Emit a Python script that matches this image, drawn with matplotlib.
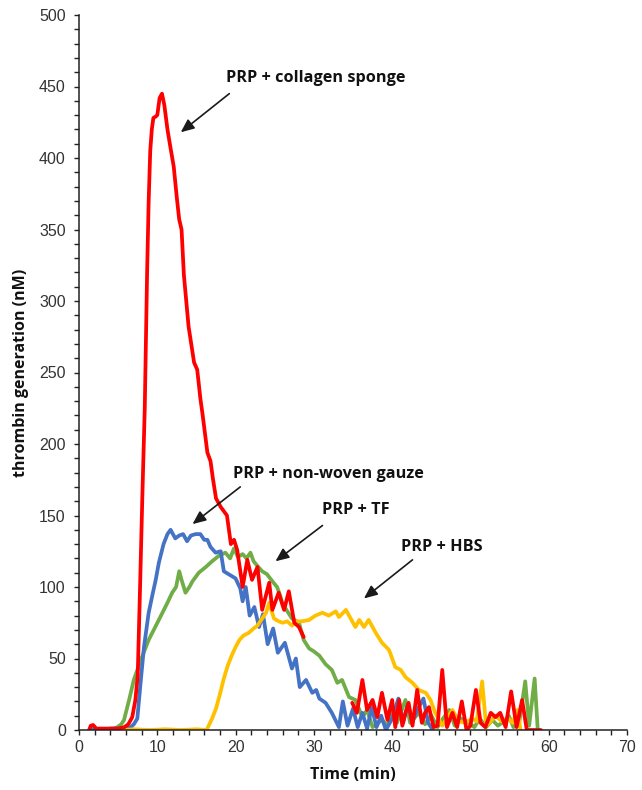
import numpy as np
import matplotlib
matplotlib.use("Agg")
import matplotlib.pyplot as plt
from matplotlib.ticker import MultipleLocator

# thrombin generation curves (time in min, thrombin in nM)

# PRP + collagen sponge (red); the trace breaks between ~29 and ~35 min
red_t = [1.3, 1.5, 1.8, 2.2, 3, 4, 5, 5.8, 6.3, 6.8, 7.2, 7.5, 7.8, 8.1, 8.4, 8.7, 8.9, 9.1,
         9.3, 9.5, 9.8, 10.0, 10.3, 10.6, 10.9, 11.3, 11.6, 12.1, 12.5, 12.8, 13.1, 13.4, 14.0,
         14.7, 15.1, 15.5, 15.8, 16.4, 16.8, 17.1, 17.5, 18.1, 18.9, 19.4, 19.8, 20.2, 20.9,
         21.5, 22.1, 22.8, 23.4, 24.3, 24.7, 25.5, 26.2, 26.8, 27.5, 28.1, 28.7, 31.0,
         34.9, 35.5, 36.2, 36.8, 37.5, 38.1, 38.7, 39.4, 40.0, 40.4, 40.9, 41.3, 41.7, 42.1,
         42.6, 43.2, 43.8, 44.2, 44.7, 45.3, 45.8, 46.4, 47.0, 47.7, 48.3, 48.9, 49.5, 50.0,
         50.7, 51.3, 51.9, 52.6, 53.2, 53.8, 54.5, 55.2, 55.9, 56.6, 57.2, 58.0, 59.0]
red_v = [0, 3, 3.5, 1, 1, 1, 1, 2, 4, 9, 21, 38, 100, 165, 225, 320, 370, 405,
         420, 428, 429, 430, 442, 445, 437, 420, 410, 394, 372, 357, 350, 318, 282,
         257, 252, 232, 220, 194, 188, 176, 162, 156, 150, 130, 133, 126, 100,
         119, 105, 114, 84, 103, 84, 96, 84, 97, 75, 72, 65, np.nan,
         19, 12, 35, 14, 21, 9, 26, 7, 21, 2, 21, 3, 12, 19,
         3, 28, 5, 12, 16, 2, 3, 42, 2, 12, 2, 20, 0, 3,
         28, 5, 2, 12, 9, 12, 2, 27, 2, 21, 0, 0, 0]

# PRP + non-woven gauze (blue)
blue_t = [1.3, 2, 3, 4, 5, 6, 6.6, 7.0, 7.45, 7.9, 8.3, 8.9, 9.4, 9.8, 10.2, 10.8, 11.3, 11.7,
          12.3, 12.8, 13.3, 13.8, 14.3, 14.9, 15.5, 16.0, 16.4, 16.8, 17.45, 18.1, 18.5,
          19.4, 20.0, 20.6, 20.9, 21.3, 21.8, 22.4, 23.0, 23.5, 24.1, 24.8, 25.4, 26.3,
          27.2, 27.7, 28.2, 29.0, 29.8, 30.3, 30.7, 31.5, 32.3, 33.2, 33.7, 34.3, 35.0,
          35.6, 36.2, 36.8, 37.4, 38.0, 38.6, 39.2, 40.0, 40.8, 41.4, 42.0, 42.6, 43.3,
          44.0, 44.6, 45.2]
blue_v = [0, 1, 0, 1, 1, 1, 2, 4, 8, 35, 58, 82, 95, 105, 117, 130, 137, 140,
          134, 136, 137, 132, 136, 137, 137, 133, 133, 128, 124, 125, 111,
          108, 106, 99, 90, 100, 80, 86, 72, 81, 60, 71, 54, 61,
          43, 50, 30, 35, 26, 28, 22, 19, 12, 2, 20, 3, 15,
          2, 12, 1, 16, 2, 10, 0, 8, 22, 5, 18, 6, 15,
          22, 5, 0]

# PRP + TF (green)
green_t = [2, 3, 4, 4.9, 5.4, 5.75, 6.4, 7.0, 7.9, 8.9, 10.2, 11.3, 11.9, 12.4, 12.8, 13.1,
           13.6, 14.1, 14.5, 15.3, 16.2, 17.0, 17.9, 18.7, 19.3, 19.8, 20.3, 20.9, 21.4,
           21.9, 22.3, 22.9, 23.4, 24.0, 24.7, 25.3, 25.7, 26.0, 26.5, 27.2, 28.1, 28.7,
           29.4, 30.0, 30.7, 31.5, 32.3, 33.0, 33.6, 34.5, 35.3, 36.2, 36.8, 37.5, 38.7,
           39.4, 40.0, 40.6, 41.7, 42.3, 43.4, 44.2, 45.0, 45.8, 46.5, 47.3, 48.0, 48.8,
           49.8, 50.5, 51.2, 52.0, 52.8, 53.5, 54.3, 54.9, 55.5, 56.2, 57.0, 57.5, 58.2, 58.6]
green_v = [0, 0, 0, 2, 4, 7, 21, 35, 49, 63, 77, 89, 96, 100, 111, 105,
           96, 100, 104, 110, 114, 118, 122, 124, 120, 127, 121, 123, 120,
           124, 118, 114, 111, 109, 104, 100, 94, 88, 84, 78, 75, 63,
           57, 55, 52, 46, 42, 33, 35, 23, 21, 9, 14, 2, 7,
           3, 12, 5, 21, 5, 12, 4, 10, 2, 8, 14, 3, 8,
           5, 2, 8, 2, 7, 3, 6, 10, 2, 4, 34, 3, 36, 0]

# PRP + HBS (yellow)
yellow_t = [5.5, 7, 9, 11, 13, 15, 16.3, 17.0, 17.5, 18.0, 18.5, 19.0, 19.5, 20.0, 20.5, 21.0,
            21.7, 22.3, 22.8, 23.4, 23.9, 24.3, 24.9, 25.5, 26.0, 26.6, 27.2, 27.8, 28.5,
            29.4, 30.2, 31.1, 31.9, 32.8, 33.2, 34.1, 34.5, 35.3, 35.8, 36.4, 37.0, 37.9,
            38.7, 39.6, 40.4, 41.1, 41.7, 42.6, 43.4, 44.3, 44.9, 45.5, 46.4, 47.0, 47.7,
            48.5, 49.4, 50.2, 50.8, 51.5, 52.0, 52.6, 53.2, 54.0, 54.8, 55.4, 56.0, 56.4]
yellow_v = [0, 0.5, 0, 0.5, 0, 0.5, 0, 8, 15, 25, 36, 45, 52, 58, 63, 66,
            68, 71, 73, 78, 82, 89, 78, 76, 75, 76, 73, 76, 76,
            77, 80, 82, 80, 83, 79, 84, 80, 72, 77, 72, 77, 68,
            61, 56, 44, 42, 37, 33, 28, 26, 21, 12, 3, 8, 14,
            6, 5, 8, 6, 34, 3, 6, 10, 6, 8, 5, 14, 0]

labels = ["PRP + collagen sponge", "PRP + non-woven gauze", "PRP + TF", "PRP + HBS"]
label_pos = [(30.2, 456), (31.9, 179), (35.3, 154), (46.4, 128)]
arrow_tail = [(19.2, 445), (20.6, 170), (31.1, 143), (42.6, 119)]
arrow_head = [(13.0, 418), (14.5, 144), (25.1, 118), (36.4, 92)]

fig = plt.figure(figsize=(6.42, 7.90), dpi=100)
ax = fig.add_axes([79 / 642, 60 / 790, 548 / 642, 715 / 790])

lw = 2.7
ax.plot(green_t, green_v, color="#70AD47", lw=lw, solid_joinstyle="round", solid_capstyle="round")
ax.plot(blue_t, blue_v, color="#4472C4", lw=lw, solid_joinstyle="round", solid_capstyle="round")
ax.plot(yellow_t, yellow_v, color="#FFC000", lw=lw, solid_joinstyle="round", solid_capstyle="round")
ax.plot(red_t, red_v, color="#FF0000", lw=lw, solid_joinstyle="round", solid_capstyle="round")

ax.set_xlim(0, 70)
ax.set_ylim(0, 500)
ax.xaxis.set_major_locator(MultipleLocator(10))
ax.xaxis.set_minor_locator(MultipleLocator(2))
ax.yaxis.set_major_locator(MultipleLocator(50))
ax.yaxis.set_minor_locator(MultipleLocator(10))

for s in ["top", "right"]:
    ax.spines[s].set_visible(False)
for s in ["left", "bottom"]:
    ax.spines[s].set_color("#222222")
    ax.spines[s].set_linewidth(1.1)

ax.tick_params(which="both", direction="out", length=3.5, width=1, color="#222222")
ax.tick_params(axis="y", pad=6)
ax.tick_params(axis="x", pad=4)
for t in ax.get_xticklabels() + ax.get_yticklabels():
    t.set_fontfamily("Liberation Sans")
    t.set_fontsize(11.5)
    t.set_color("#333333")

bold = dict(family="Open Sans", fontweight="bold", color="#111111")
ax.set_xlabel("Time (min)", fontsize=11.5, labelpad=8, **bold)
ax.set_ylabel("thrombin generation (nM)", fontsize=11.5, labelpad=7, **bold)

for txt, pos, tail, head in zip(labels, label_pos, arrow_tail, arrow_head):
    ax.text(pos[0], pos[1], txt, ha="center", va="center", fontsize=11.7, **bold)
    ax.annotate("", xy=head, xytext=tail,
                arrowprops=dict(arrowstyle="-|>,head_length=0.8,head_width=0.35",
                                color="#1a1a1a", lw=1.2, shrinkA=0, shrinkB=0))

fig.savefig("out.png", dpi=100)
